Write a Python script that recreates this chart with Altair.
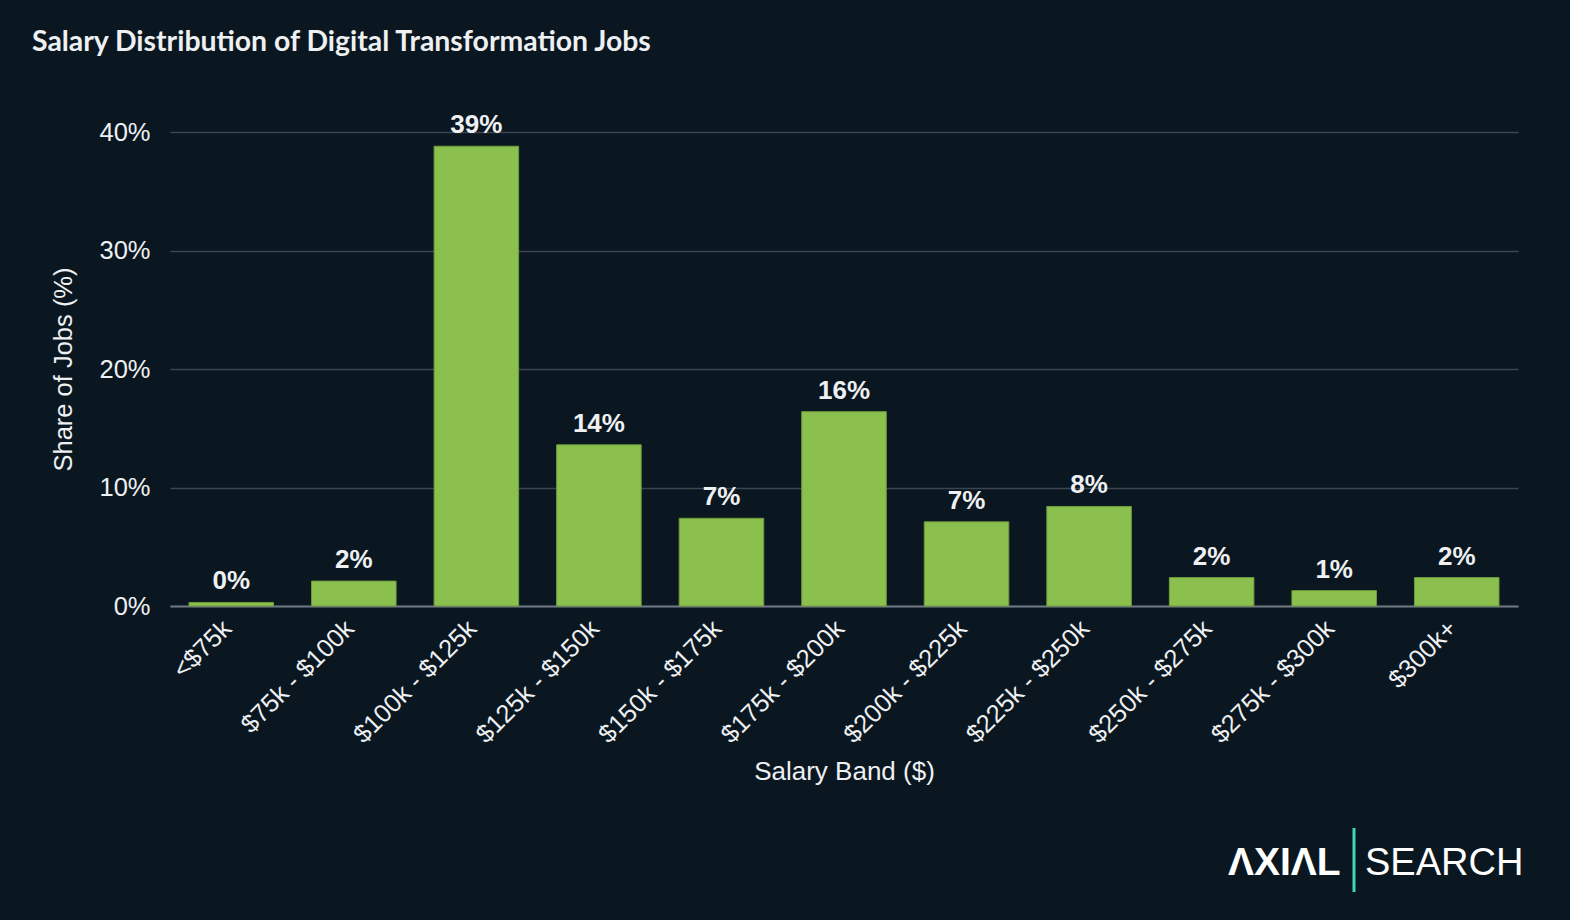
import altair as alt
import pandas as pd

# Salary bands and share of digital transformation job postings (%)
bands = ["<$75k", "$75k - $100k", "$100k - $125k", "$125k - $150k", "$150k - $175k",
         "$175k - $200k", "$200k - $225k", "$225k - $250k", "$250k - $275k",
         "$275k - $300k", "$300k+"]
shares = [0.3, 2.1, 38.8, 13.6, 7.4, 16.4, 7.1, 8.4, 2.4, 1.3, 2.4]

y_ticks = [0, 10, 20, 30, 40]

BG = "#0a1721"
BAR = "#8bc04f"
TEXT = "#eef0f2"
GRID = "#3b4650"
TEAL = "#3fd9b0"

df = pd.DataFrame({"band": bands, "share": shares})

x_enc = alt.X(
    "band:N", sort=bands,
    scale=alt.Scale(paddingInner=0.31, paddingOuter=0.155),
    axis=alt.Axis(
        title="Salary Band ($)", labelAngle=-45, labelFontSize=25.5, labelColor=TEXT,
        labelFont="Liberation Sans", labelPadding=18, labelOffset=-4, labelAlign="right",
        labelBaseline="middle", ticks=False,
        domainColor="#6e7780", domainWidth=2,
        titleFontSize=26, titleFont="Liberation Sans", titleColor=TEXT,
        titleFontWeight="normal", titleY=165, titleBaseline="middle",
    ),
)
y_enc = alt.Y(
    "share:Q",
    scale=alt.Scale(domain=[0, 40], nice=False),
    axis=alt.Axis(
        title="Share of Jobs (%)", values=y_ticks, labelExpr="datum.value + '%'",
        labelFontSize=25.5, labelColor=TEXT, labelFont="Liberation Sans",
        labelPadding=20, ticks=False, domain=False,
        grid=True, gridColor=GRID, gridWidth=1.5,
        titleFontSize=25.5, titleFont="Liberation Sans", titleColor=TEXT,
        titleFontWeight="normal", titleX=-107, titleY=237, titleBaseline="middle",
    ),
)

bars = alt.Chart(df).mark_bar(color=BAR, stroke="#6f9a3d", strokeWidth=1).encode(x=x_enc, y=y_enc)

labels = alt.Chart(df).transform_calculate(
    label="format(datum.share, '.0f') + '%'"
).mark_text(
    font="Liberation Sans", fontSize=26, fontWeight="bold", color=TEXT,
    baseline="bottom", dy=-8,
).encode(x=alt.X("band:N", sort=bands), y="share:Q", text="label:N")

title = alt.Chart(pd.DataFrame({"t": ["Salary Distribution of Digital Transformation Jobs"]})).mark_text(
    font="Lato", fontSize=28.4, fontWeight="bold", color=TEXT, align="left", baseline="middle",
).encode(x=alt.value(-138), y=alt.value(-90), text="t:N")

# Brand mark in the bottom-right corner
logo_word = alt.Chart(pd.DataFrame({"t": ["ΛXIΛL"]})).mark_text(
    font="Liberation Sans", fontSize=39, fontWeight="bold", color="#ffffff",
    align="left", baseline="alphabetic",
).encode(x=alt.value(1058), y=alt.value(743), text="t:N")

logo_bar = alt.Chart(pd.DataFrame({"k": [0]})).mark_rule(color=TEAL, strokeWidth=3).encode(
    x=alt.value(1184), y=alt.value(696), y2=alt.value(760)
)

logo_search = alt.Chart(pd.DataFrame({"t": ["SEARCH"]})).mark_text(
    font="Liberation Sans", fontSize=38, fontWeight="normal", color="#ffffff",
    align="left", baseline="alphabetic",
).encode(x=alt.value(1195), y=alt.value(743), text="t:N")

chart = alt.layer(bars, labels, title, logo_word, logo_bar, logo_search).properties(
    width=1348, height=474,
    background=BG,
    padding={"left": 170, "top": 132, "right": 52, "bottom": 314},
    autosize=alt.AutoSizeParams(type="none"),
).configure_view(stroke=None)

chart.save("out.html", embed_options={"renderer": "svg", "actions": False})
